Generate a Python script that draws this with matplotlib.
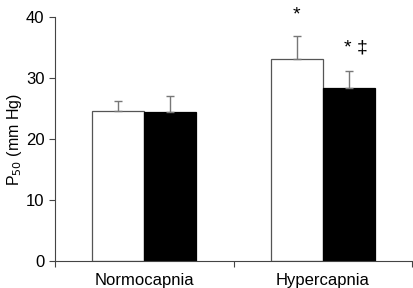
import numpy as np
import matplotlib
matplotlib.use("Agg")
import matplotlib.pyplot as plt

plt.rcParams['font.family'] = ['Liberation Sans', 'DejaVu Sans']

categories = ['Normocapnia', 'Hypercapnia']
open_vals = [24.6, 33.2]
open_err = [1.6, 3.8]
filled_vals = [24.4, 28.3]
filled_err = [2.7, 2.8]
marks_open = ['', '*']
marks_filled = ['', '* \u2021']

fig = plt.figure(figsize=(4.13, 2.88), dpi=100)
ax = fig.add_axes([0.133, 0.095, 0.865, 0.845])

x = np.arange(len(categories))
w = 0.29
ax.bar(x - w / 2, open_vals, w, color='white', edgecolor='#555555', linewidth=0.9)
ax.bar(x + w / 2, filled_vals, w, color='black', edgecolor='black', linewidth=0.9)
ax.errorbar(x - w / 2, open_vals, yerr=[np.zeros(2), open_err], fmt='none',
            ecolor='#777777', elinewidth=1.0, capsize=3, capthick=1.0)
ax.errorbar(x + w / 2, filled_vals, yerr=[np.zeros(2), filled_err], fmt='none',
            ecolor='#777777', elinewidth=1.0, capsize=3, capthick=1.0)

# significance marks
for i in range(len(categories)):
    if marks_open[i]:
        ax.text(x[i] - w / 2, open_vals[i] + open_err[i] + 2.0, marks_open[i],
                ha='center', va='bottom', fontsize=14)
    if marks_filled[i]:
        ax.text(x[i] + w / 2 + 0.04, filled_vals[i] + filled_err[i] + 2.4, marks_filled[i],
                ha='center', va='bottom', fontsize=14)

ax.set_xlim(-0.5, 1.5)
ax.set_ylim(0, 40)
ax.set_yticks([0, 10, 20, 30, 40])
ax.set_xticks([-0.5, 0.5, 1.5])
ax.set_xticklabels([])
ax.set_xticks(x, minor=True)
ax.set_xticklabels(categories, minor=True)
ax.tick_params(axis='x', which='minor', length=0, labelsize=12, pad=9)
ax.tick_params(axis='x', which='major', length=4, width=0.8, colors='#444444')
ax.tick_params(axis='y', length=4, width=0.8, labelsize=12, colors='#444444', labelcolor='black')
ax.set_ylabel('P$_{50}$ (mm Hg)', fontsize=11.5, labelpad=1)

for s in ['top', 'right']:
    ax.spines[s].set_visible(False)
for s in ['left', 'bottom']:
    ax.spines[s].set_color('#444444')
    ax.spines[s].set_linewidth(0.8)

fig.savefig('out.png', dpi=100)
